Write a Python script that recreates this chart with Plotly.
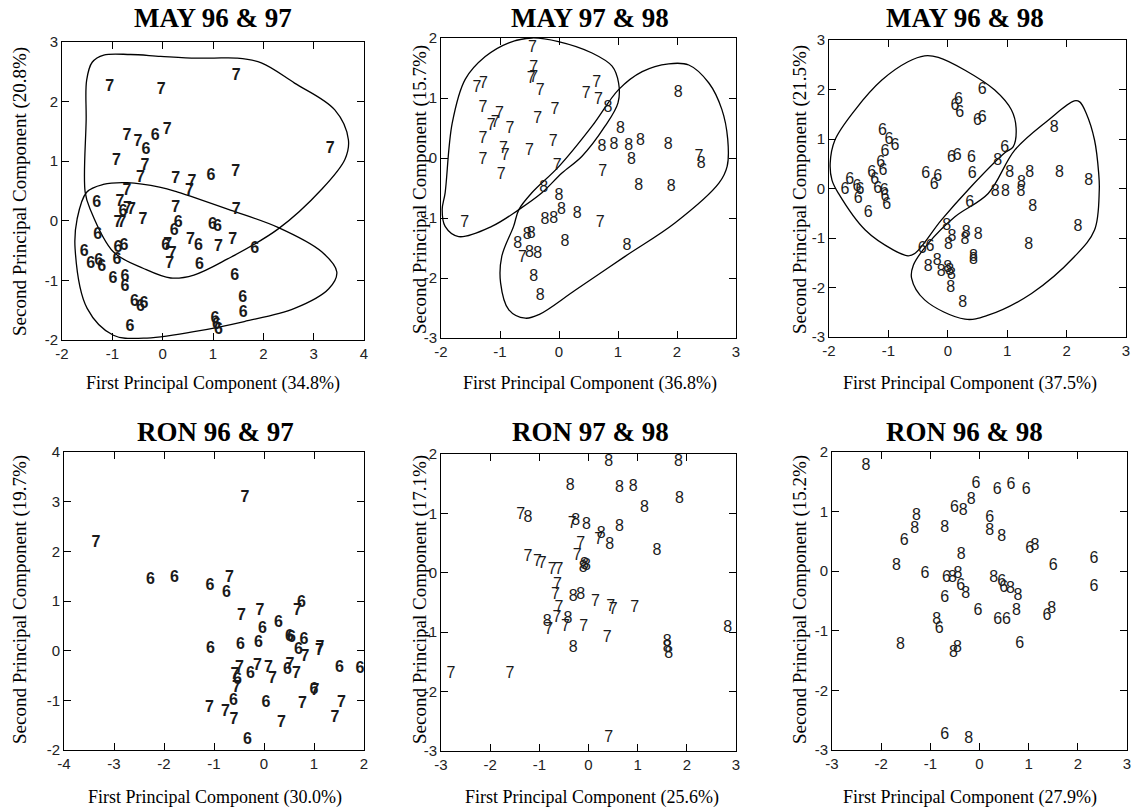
import plotly.graph_objects as go

W, H = 1135, 809

# ---------------- DATA ----------------
# Panel 1: MAY 96 & 97
may9697_7x = [-1.05, -0.03, 1.46, 3.33, -0.71, -0.49, 0.09, -0.92, -0.35, -0.44, 0.26, 0.58, 0.53, 1.45, -0.71, -0.85, -0.70, -0.62, -0.39, -0.89, -0.81, 0.26, 1.46, 0.10, 0.19, 0.14, 0.55, 1.11, 1.39]
may9697_7y = [2.25, 2.20, 2.43, 1.21, 1.42, 1.33, 1.52, 1.00, 0.92, 0.72, 0.70, 0.65, 0.50, 0.82, 0.50, 0.31, 0.20, 0.18, 0.02, -0.03, -0.03, 0.21, 0.18, -0.40, -0.56, -0.72, -0.33, -0.44, -0.33]
may9697_6x = [-0.15, -0.33, 0.96, -1.31, -0.79, 0.31, 0.23, 0.99, 1.09, -1.29, -0.89, -0.77, -0.91, -1.56, -1.43, -1.27, -1.21, 0.06, 0.71, 1.83, 0.73, 1.43, -0.99, -0.75, -0.75, -0.56, -0.44, -0.37, 1.59, 1.60, -0.65, 1.04, 1.07, 1.11]
may9697_6y = [1.43, 1.18, 0.75, 0.30, 0.14, -0.04, -0.17, -0.07, -0.11, -0.24, -0.46, -0.43, -0.65, -0.53, -0.72, -0.67, -0.78, -0.43, -0.42, -0.48, -0.74, -0.93, -0.98, -0.94, -1.11, -1.37, -1.44, -1.40, -1.30, -1.55, -1.78, -1.65, -1.75, -1.83]
may9697_hull7_x = [-1.54, -1.52, -1.51, -1.40, -1.17, -0.64, -0.04, 0.66, 1.02, 1.46, 1.96, 2.62, 3.42, 3.69, 3.62, 3.16, 2.29, 1.29, 0.62, 0.16, -0.38, -0.98, -1.44]
may9697_hull7_y = [0.48, 1.70, 2.36, 2.66, 2.78, 2.79, 2.76, 2.73, 2.73, 2.73, 2.65, 2.31, 1.86, 1.36, 1.03, 0.53, -0.14, -0.64, -0.91, -0.96, -0.80, -0.52, 0.195]
may9697_hull6_x = [-1.74, -1.70, -1.51, -1.18, -0.70, -0.04, 0.30, 1.29, 2.29, 3.16, 3.46, 3.30, 2.62, 1.62, 0.62, -0.38, -0.98, -1.50]
may9697_hull6_y = [-0.47, 0.03, 0.48, 0.61, 0.64, 0.56, 0.48, 0.195, -0.11, -0.52, -0.86, -1.14, -1.47, -1.69, -1.86, -1.97, -1.92, -1.47]

# Panel 2: MAY 97 & 98
may9798_7x = [-0.45, -0.43, -0.47, -0.43, -0.32, -1.39, -1.28, 0.46, 0.64, 0.67, -1.29, -1.01, -1.15, -1.08, -0.83, -1.29, -0.36, -0.07, -1.29, -0.94, -0.91, -0.50, -0.10, -0.98, -0.03, 2.37, 0.74, 0.70, -1.60, -0.62]
may9798_7y = [1.83, 1.50, 1.32, 1.33, 1.11, 1.17, 1.23, 1.07, 1.25, 0.97, 0.83, 0.74, 0.54, 0.58, 0.48, 0.31, 0.65, 0.80, -0.03, 0.15, 0.03, 0.11, 0.26, -0.28, -0.13, 0.02, -0.24, -1.08, -1.08, -1.67]
may9798_8x = [0.83, 2.02, 1.04, 0.73, 0.93, 1.18, 1.38, 1.85, 1.23, 2.41, 1.35, 1.90, -0.26, 0.00, 0.04, -0.24, -0.09, 0.31, -0.54, -0.47, -0.70, 0.10, 1.15, -0.50, -0.36, -0.43, -0.32]
may9798_8y = [0.84, 1.08, 0.48, 0.18, 0.22, 0.20, 0.29, 0.22, -0.04, -0.10, -0.47, -0.49, -0.50, -0.64, -0.86, -1.04, -1.01, -0.93, -1.28, -1.27, -1.43, -1.40, -1.47, -1.58, -1.60, -1.98, -2.30]
may9798_hull7_x = [-1.93, -1.81, -1.59, -1.25, -0.85, -0.46, -0.01, 0.56, 0.90, 1.01, 1.00, 0.78, 0.39, 0.05, -0.29, -0.68, -1.14, -1.70, -1.93, -1.98]
may9798_hull7_y = [-0.58, 0.58, 1.31, 1.69, 1.92, 2.00, 1.94, 1.75, 1.53, 1.25, 0.92, 0.53, 0.03, -0.25, -0.58, -0.86, -1.14, -1.31, -1.14, -0.86]
may9798_hull8_x = [-0.46, 0.00, 0.56, 1.01, 1.41, 1.86, 2.20, 2.54, 2.76, 2.86, 2.85, 2.71, 1.97, 1.12, 0.28, -0.34, -0.57, -0.85, -0.99, -0.97, -0.77, -0.68]
may9798_hull8_y = [-0.58, -0.14, 0.53, 1.14, 1.44, 1.57, 1.55, 1.25, 0.81, 0.31, -0.14, -0.42, -1.08, -1.64, -2.20, -2.61, -2.67, -2.53, -2.08, -1.64, -1.14, -0.86]

# Panel 3: MAY 96 & 98
may9698_6x = [0.58, 0.18, 0.12, 0.20, 0.50, 0.58, -1.10, -0.99, -0.89, -1.06, -1.13, -1.09, -1.28, -1.23, -1.18, -1.07, -1.65, -1.73, -1.53, -1.48, -0.37, -0.17, -0.23, 0.06, 0.16, 0.40, 0.41, 0.96, -1.51, -1.03, -1.34, -1.06, 0.37, -0.43, -0.30]
may9698_6y = [1.98, 1.79, 1.67, 1.53, 1.37, 1.42, 1.17, 0.98, 0.86, 0.74, 0.51, 0.35, 0.32, 0.17, 0.00, -0.06, 0.17, -0.03, 0.04, -0.04, 0.29, 0.24, 0.07, 0.61, 0.66, 0.61, 0.29, 0.81, -0.22, -0.33, -0.49, -0.17, -0.29, -1.23, -1.19]
may9698_8x = [0.84, 1.79, 1.04, 1.38, 1.88, 2.37, 1.24, 0.80, 0.97, 1.23, 1.43, 2.19, -0.02, 0.07, 0.01, 0.31, 0.29, 0.51, 1.36, 0.43, 0.43, -0.33, -0.18, -0.11, 0.00, 0.03, 0.06, 0.05, 0.25]
may9698_8y = [0.56, 1.22, 0.31, 0.31, 0.31, 0.15, 0.12, -0.08, -0.08, -0.08, -0.37, -0.78, -0.76, -0.97, -1.14, -0.89, -1.05, -0.93, -1.14, -1.38, -1.44, -1.59, -1.46, -1.68, -1.61, -1.66, -1.75, -2.02, -2.32]
may9698_hull6_x = [-1.98, -1.90, -1.56, -1.11, -0.67, -0.39, -0.16, 0.29, 0.79, 1.07, 1.15, 1.10, 0.96, 0.34, -0.11, -0.55, -0.67, -0.92, -1.39, -1.84, -1.95]
may9698_hull6_y = [0.51, 0.98, 1.59, 2.19, 2.56, 2.68, 2.65, 2.39, 1.99, 1.59, 1.22, 0.84, 0.72, -0.03, -0.64, -1.31, -1.36, -1.24, -0.84, -0.10, 0.17]
may9698_hull8_x = [0.68, 1.13, 1.69, 2.13, 2.22, 2.33, 2.47, 2.54, 2.55, 2.47, 2.13, 1.41, 0.68, 0.29, -0.39, -0.61, -0.58, -0.33, 0.12]
may9698_hull8_y = [-0.10, 0.78, 1.38, 1.77, 1.75, 1.52, 0.98, 0.31, -0.03, -0.84, -1.38, -2.12, -2.56, -2.64, -2.25, -1.81, -1.55, -1.11, -0.57]

# Panel 4: RON 96 & 97
ron9697_7x = [-0.38, -3.36, -0.69, 0.67, -0.45, -0.08, 0.82, 1.12, 1.11, -0.49, -0.13, 0.09, 0.17, 0.52, 0.65, -0.58, -0.55, -1.09, -0.77, -0.60, 0.35, 0.77, 1.02, 1.55, 1.42]
ron9697_7y = [3.08, 2.16, 1.47, 0.79, 0.69, 0.79, -0.13, 0.05, -0.01, -0.34, -0.30, -0.35, -0.58, -0.28, -0.47, -0.48, -0.75, -1.16, -1.24, -1.39, -1.46, -1.07, -0.82, -1.05, -1.36]
ron9697_6x = [-2.27, -1.79, -1.08, -0.75, 0.75, 0.29, -0.03, 0.51, 0.55, 0.80, 0.69, -1.07, -0.47, -0.11, -0.27, 0.47, 1.51, 1.92, -0.53, -0.61, 0.04, 1.00, -0.33]
ron9697_6y = [1.43, 1.47, 1.30, 1.16, 0.96, 0.56, 0.44, 0.27, 0.26, 0.22, 0.02, 0.04, 0.12, 0.16, -0.47, -0.38, -0.35, -0.36, -0.60, -1.02, -1.05, -0.79, -1.79]

# Panel 5: RON 97 & 98
ron9798_8x = [0.41, 1.83, -0.37, 0.63, 0.91, 1.85, 1.14, -1.23, -0.26, -0.04, 0.63, 0.26, 0.43, 1.39, -0.08, -0.04, -0.11, -0.31, -0.16, -0.42, -0.84, -0.31, 1.60, 1.60, 1.63, 2.83]
ron9798_8y = [1.87, 1.86, 1.46, 1.43, 1.44, 1.24, 1.09, 0.92, 0.87, 0.81, 0.77, 0.66, 0.47, 0.36, 0.13, 0.11, 0.08, -0.41, -0.38, -0.77, -0.83, -1.27, -1.16, -1.26, -1.37, -0.93]
ron9798_7x = [-1.38, -0.33, 0.21, -0.16, -0.23, -1.23, -1.04, -0.94, -0.74, -0.60, -0.63, -0.67, 0.14, 0.45, 0.50, 0.94, -0.60, -0.64, -0.81, -0.47, -0.10, 0.38, -2.80, -1.60, 0.41]
ron9798_7y = [0.97, 0.83, 0.55, 0.49, 0.29, 0.27, 0.18, 0.15, 0.04, 0.04, -0.20, -0.37, -0.49, -0.57, -0.63, -0.60, -0.60, -0.76, -0.97, -0.91, -0.91, -1.10, -1.71, -1.71, -2.78]

# Panel 6: RON 96 & 98
ron9698_8x = [-2.31, -0.33, -0.17, -1.28, -1.32, -0.71, 0.21, 0.45, 1.13, -0.37, -1.69, -0.55, -0.44, -0.28, 0.29, 0.63, 0.78, 0.75, 1.47, -0.87, -1.61, -0.53, -0.45, -0.22]
ron9698_8y = [1.77, 1.01, 1.19, 0.93, 0.71, 0.72, 0.67, 0.58, 0.43, 0.27, 0.09, -0.12, -0.04, -0.38, -0.12, -0.30, -0.42, -0.66, -0.64, -0.82, -1.23, -1.37, -1.29, -2.82]
ron9698_6x = [-0.07, 0.36, 0.64, 0.95, -0.51, -1.53, 0.21, 1.02, -1.11, 1.50, 2.33, 2.33, -0.67, -0.38, 0.45, 0.49, -0.71, -0.03, 0.37, 0.55, 1.37, -0.82, 0.82, -0.71]
ron9698_6y = [1.47, 1.36, 1.45, 1.36, 1.06, 0.51, 0.89, 0.37, -0.04, 0.09, 0.21, -0.26, -0.11, -0.24, -0.18, -0.28, -0.45, -0.66, -0.82, -0.82, -0.75, -0.97, -1.22, -2.74]

titles = ["MAY 96 & 97", "MAY 97 & 98", "MAY 96 & 98", "RON 96 & 97", "RON 97 & 98", "RON 96 & 98"]
x_titles = ["First Principal Component (34.8%)", "First Principal Component (36.8%)", "First Principal Component (37.5%)",
            "First Principal Component (30.0%)", "First Principal Component (25.6%)", "First Principal Component (27.9%)"]
y_titles = ["Second Principal Component (20.8%)", "Second Principal Component (15.7%)", "Second Principal Component (21.5%)",
            "Second Principal Component (19.7%)", "Second Principal Component (17.1%)", "Second Principal Component (15.2%)"]
x_ranges = [(-2, 4), (-2, 3), (-2, 3), (-4, 2), (-3, 3), (-3, 3)]
y_ranges = [(-2, 3), (-3, 2), (-3, 3), (-2, 4), (-3, 2), (-3, 2)]

# ---------------- LAYOUT GEOMETRY (pixels) ----------------
# plot-area boxes: left, right, top, bottom
boxes = [(62, 364, 42, 340), (441, 736, 38, 338), (829, 1126, 40, 337),
         (64, 364, 452, 750), (441, 736, 454, 751), (832, 1127, 452, 750)]
title_pos = [(213, 18), (590, 18), (965, 18), (215, 432), (590, 432), (965, 432)]
xt_pos = [(213, 383), (590, 383), (970, 383), (215, 797), (592, 797), (970, 797)]
yt_pos = [(20, 192), (420, 190), (800, 190), (20, 600), (420, 600), (800, 600)]

SERIF = "Liberation Serif, Times New Roman, serif"
SANS = "Liberation Sans, Arial, sans-serif"

panels = [
    [("7", may9697_7x, may9697_7y), ("6", may9697_6x, may9697_6y)],
    [("7", may9798_7x, may9798_7y), ("8", may9798_8x, may9798_8y)],
    [("6", may9698_6x, may9698_6y), ("8", may9698_8x, may9698_8y)],
    [("7", ron9697_7x, ron9697_7y), ("6", ron9697_6x, ron9697_6y)],
    [("8", ron9798_8x, ron9798_8y), ("7", ron9798_7x, ron9798_7y)],
    [("8", ron9698_8x, ron9698_8y), ("6", ron9698_6x, ron9698_6y)],
]
hulls = [
    [(may9697_hull7_x, may9697_hull7_y), (may9697_hull6_x, may9697_hull6_y)],
    [(may9798_hull7_x, may9798_hull7_y), (may9798_hull8_x, may9798_hull8_y)],
    [(may9698_hull6_x, may9698_hull6_y), (may9698_hull8_x, may9698_hull8_y)],
    [], [], [],
]
bold_panels = {0, 3}

fig = go.Figure()
annotations = []
layout_axes = {}

def ticks(lo, hi):
    vals = list(range(lo, hi + 1))
    return vals, [str(v) for v in vals]

for i in range(6):
    n = "" if i == 0 else str(i + 1)
    xa, ya = "x" + n, "y" + n
    l, r, t, b = boxes[i]
    xv, xtxt = ticks(*x_ranges[i])
    yv, ytxt = ticks(*y_ranges[i])
    common = dict(ticks="inside", ticklen=7, tickwidth=1, tickcolor="black",
                  showline=True, linecolor="black", linewidth=1, mirror="ticks",
                  showgrid=False, zeroline=False, automargin=False,
                  tickfont=dict(family=SANS, size=15, color="#222"))
    layout_axes["xaxis" + n] = dict(common, range=list(x_ranges[i]), tickvals=xv, ticktext=xtxt,
                                    domain=[l / W, r / W], anchor=ya)
    layout_axes["yaxis" + n] = dict(common, range=list(y_ranges[i]), tickvals=yv, ticktext=ytxt,
                                    domain=[1 - b / H, 1 - t / H], anchor=xa)

    for hx, hy in hulls[i]:
        fig.add_trace(go.Scatter(x=hx + hx[:1], y=hy + hy[:1], mode="lines",
                                 line=dict(color="black", width=1.3, shape="spline", smoothing=1.0),
                                 xaxis=xa, yaxis=ya, showlegend=False, hoverinfo="skip"))
    for lab, px, py in panels[i]:
        fig.add_trace(go.Scatter(x=px, y=py, mode="text", text=[lab] * len(px),
                                 textposition="middle center", cliponaxis=False,
                                 textfont=dict(family=SANS, size=16, color="#1a1a1a",
                                               weight="bold" if i in bold_panels else "normal"),
                                 xaxis=xa, yaxis=ya, showlegend=False))

    tx, ty = title_pos[i]
    annotations.append(dict(text="<b>" + titles[i] + "</b>", x=tx / W, y=1 - ty / H, xref="paper", yref="paper",
                            xanchor="center", yanchor="middle", showarrow=False,
                            font=dict(family=SERIF, size=27, color="black")))
    ax_, ay_ = xt_pos[i]
    annotations.append(dict(text=x_titles[i], x=ax_ / W, y=1 - ay_ / H, xref="paper", yref="paper",
                            xanchor="center", yanchor="middle", showarrow=False,
                            font=dict(family=SERIF, size=18, color="black")))
    bx, by = yt_pos[i]
    annotations.append(dict(text=y_titles[i], x=bx / W, y=1 - by / H, xref="paper", yref="paper",
                            xanchor="center", yanchor="middle", showarrow=False, textangle=-90,
                            font=dict(family=SERIF, size=19, color="black")))

fig.update_layout(template="none", width=W, height=H, margin=dict(l=0, r=0, t=0, b=0, autoexpand=False),
                  paper_bgcolor="white", plot_bgcolor="white",
                  annotations=annotations, **layout_axes)

fig.write_html("out.html", config={"displayModeBar": False, "staticPlot": True},
               post_script="document.body.style.margin='0';document.body.style.overflow='hidden';")
